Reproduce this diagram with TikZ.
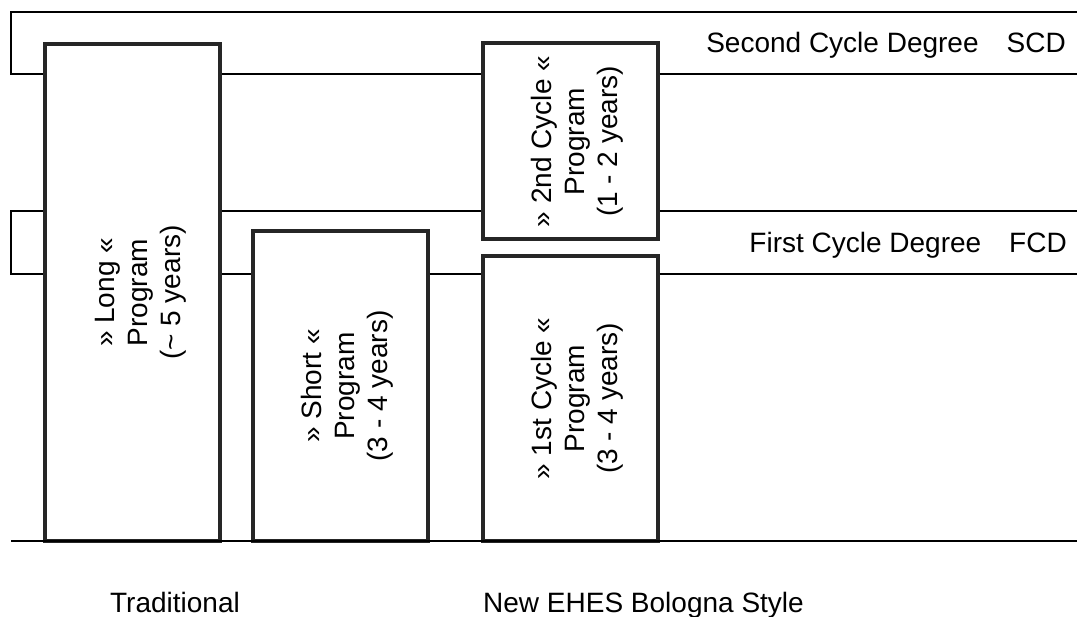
\documentclass[tikz,border=0pt]{standalone}
\usepackage{fontspec}
\setmainfont{Liberation Sans}
\usepackage{graphicx}
\usepackage{tikz}
\usetikzlibrary{positioning,calc}

\newcommand\progfont{\fontsize{28}{33}\selectfont}
\newcommand\progtext[1]{\hspace*{16pt}\rotatebox{90}{\begin{tabular}{@{}c@{}}#1\end{tabular}}}

\begin{document}
\begin{tikzpicture}[
x=1pt,
y=-1pt,
prog/.style={
  draw=black!85,
  line width=4pt,
  inner sep=0pt,
  font=\progfont
  },
rail/.style={
  line width=1.6pt
  },
lbl/.style={
  inner sep=0pt,
  font=\progfont
  },
>=latex
]
\useasboundingbox (0,0) rectangle (1077,617);

% levels of the rails
\coordinate (top) at (11,12);
\coordinate (scd) at (11,74);
\coordinate (fcdtop) at (11,211);
\coordinate (fcd) at (11,274);
\coordinate (base) at (11,541);
\coordinate (edge) at (1077,0);

\node[prog, minimum width=175, minimum height=496] at (132.5,292.5)
  (long) {\progtext{» Long «\\Program\\(\textasciitilde{} 5 years)}};
\node[prog, minimum width=175, minimum height=310] at (340,386)
  (short) {\progtext{» Short «\\Program\\(3 - 4 years)}};
\node[prog, minimum width=175, minimum height=196] at (570,141.5)
  (cyc2) {\progtext{» 2nd Cycle «\\Program\\(1 - 2 years)}};
\node[prog, minimum width=175, minimum height=285] at (570,398.5)
  (cyc1) {\progtext{» 1st Cycle «\\Program\\(3 - 4 years)}};

% brackets on the left
\draw[rail] (edge |- top) -- (top) -- (scd) -- (long.west |- scd);
\draw[rail] (long.west |- fcdtop) -- (fcdtop) -- (fcd) -- (long.west |- fcd);

\draw[rail] (long.east |- scd) -- (cyc2.west |- scd);
\draw[rail] (long.east |- fcdtop) -- (cyc2.west |- fcdtop);
\draw[rail] (long.east |- fcd) -- (short.west |- fcd);
\draw[rail] (short.east |- fcd) -- (cyc1.west |- fcd);

\foreach \lvl/\bx in {scd/cyc2, fcdtop/cyc2, fcd/cyc1}
  \draw[rail] (\bx.east |- \lvl) -- (edge |- \lvl);

\draw[rail] (base) -- (edge |- base);

\node[lbl, anchor=base east] at (1066,53)
  (scdlbl) {Second Cycle Degree\quad SCD};
\node[lbl, anchor=base east] at (1067,253)
  (fcdlbl) {First Cycle Degree\quad FCD};

\node[lbl, anchor=base] at (175,612)
  (trad) {Traditional};
\node[lbl, anchor=base west] at (483,612)
  (bologna) {New EHES Bologna Style};

\end{tikzpicture}
\end{document}
